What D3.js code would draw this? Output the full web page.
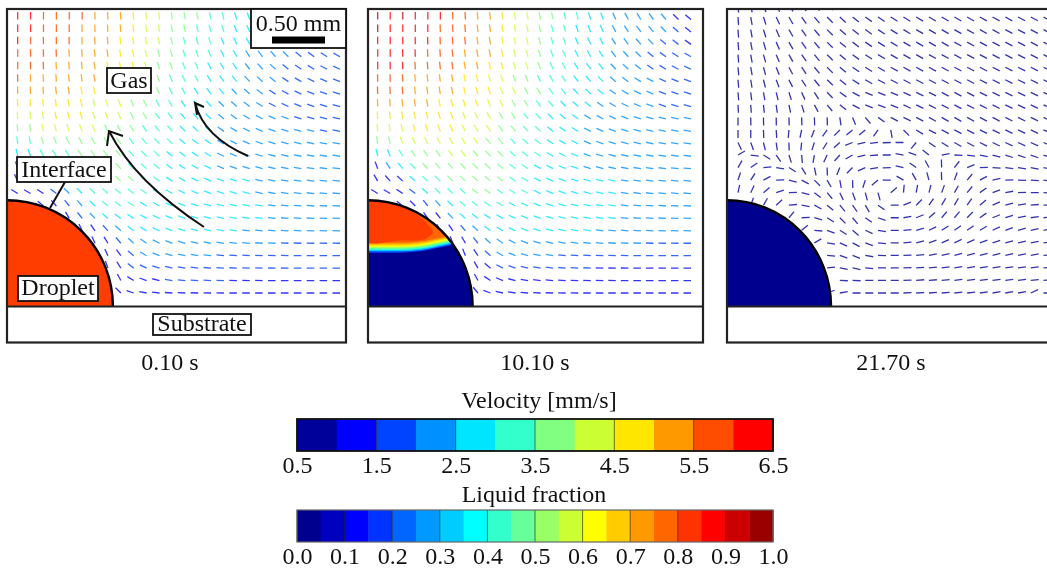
<!DOCTYPE html>
<html>
<head>
<meta charset="utf-8">
<script src="https://cdn.jsdelivr.net/npm/d3@7"></script>
<style>
    html, body { margin: 0; background: #fff; }
    svg { display: block; font-family: 'Liberation Serif', serif; fill: #111; filter: blur(0.35px); }
    .box { fill: #fff; stroke: #111; stroke-width: 1.8; }
    .note { stroke: #111; stroke-width: 2; fill: none; }
</style>
</head>
<body>
<svg id="vizSVG" width="1047" height="573"></svg>
<script>
// Цвета шкал
const velocityColors = ['#00009a', '#0000ff', '#0044ff', '#0090ff', '#00e5ff', '#33ffcc',
    '#80ff80', '#ccff33', '#ffe600', '#ff9900', '#ff4d00', '#ff0000']
const aboveRangeColor = '#b80000'
const fractionColors = ['#00008f', '#0000bf', '#0000ff', '#0033ff', '#0066ff', '#0099ff', '#00ccff',
    '#00ffff', '#33ffcc', '#66ff99', '#99ff66', '#ccff33', '#ffff00', '#ffcc00', '#ff9900',
    '#ff6600', '#ff3300', '#ff0000', '#cc0000', '#990000']
const velocityTicks = [0.5, 1.5, 2.5, 3.5, 4.5, 5.5, 6.5]
const fractionTicks = [0, 0.1, 0.2, 0.3, 0.4, 0.5, 0.6, 0.7, 0.8, 0.9, 1]
const times = ['0.10 s', '10.10 s', '21.70 s']

// Наклон стрелок влево от вертикали, градусы (0.10 s)
const tilt1 = [
    [0, 0, 0, 0, 0, 0, 2, 3, 4, 5, 6, 7, 8, 10, 12, 13, 15, 18, 20, 23, 26, 30, 35, 40, 44, 48],
    [0, 0, 0, 0, 1, 2, 3, 4, 5, 6, 7, 9, 10, 12, 14, 16, 18, 21, 24, 27, 31, 35, 39, 44, 48, 52],
    [0, 0, 1, 1, 2, 3, 4, 5, 7, 8, 9, 11, 13, 15, 17, 19, 22, 25, 28, 32, 36, 40, 44, 49, 53, 56],
    [0, 1, 1, 2, 3, 4, 6, 7, 9, 10, 12, 14, 16, 18, 20, 23, 26, 29, 33, 37, 41, 45, 50, 54, 57, 61],
    [0, 1, 2, 3, 4, 6, 8, 9, 11, 13, 15, 17, 19, 21, 24, 27, 30, 34, 38, 42, 47, 51, 55, 59, 62, 65],
    [1, 2, 3, 4, 6, 8, 10, 12, 14, 16, 18, 20, 23, 25, 28, 31, 35, 39, 43, 48, 52, 56, 60, 63, 66, 69],
    [1, 3, 4, 6, 8, 10, 12, 15, 17, 19, 21, 24, 27, 30, 33, 36, 40, 44, 48, 53, 57, 61, 65, 68, 70, 72],
    [2, 4, 6, 8, 10, 13, 15, 18, 20, 23, 25, 28, 31, 34, 37, 41, 45, 49, 53, 58, 62, 65, 68, 71, 73, 75],
    [3, 5, 8, 11, 13, 16, 19, 21, 24, 27, 30, 33, 36, 39, 42, 46, 50, 54, 58, 62, 66, 69, 72, 74, 76, 77],
    [4, 8, 12, 15, 18, 21, 23, 26, 29, 32, 35, 38, 41, 44, 47, 51, 55, 59, 63, 67, 70, 72, 75, 76, 78, 79],
    [7, 12, 18, 22, 25, 27, 29, 31, 34, 37, 40, 43, 46, 49, 52, 56, 60, 64, 67, 70, 73, 75, 77, 78, 80, 81],
    [12, 20, 28, 32, 33, 34, 35, 37, 39, 42, 45, 47, 50, 53, 57, 60, 64, 67, 70, 73, 75, 77, 79, 80, 81, 82],
    [18, 28, 37, 41, 42, 41, 41, 42, 44, 46, 49, 51, 54, 57, 61, 64, 67, 70, 73, 75, 77, 79, 80, 82, 83, 84],
    [25, 38, 47, 50, 50, 48, 47, 47, 48, 50, 52, 55, 58, 61, 64, 67, 70, 73, 75, 77, 79, 81, 82, 83, 84, 85],
    [58, 60, 58, 52, 45, 45, 46, 48, 50, 52, 55, 58, 60, 63, 66, 69, 72, 74, 76, 78, 80, 81, 83, 84, 85, 86],
    [null, null, 50, 42, 38, 42, 46, 50, 53, 56, 59, 62, 65, 68, 71, 73, 75, 77, 79, 81, 82, 84, 85, 86, 87, 87],
    [null, null, null, null, 30, 38, 44, 49, 53, 57, 61, 65, 68, 71, 73, 76, 78, 80, 81, 83, 84, 85, 86, 87, 88, 88],
    [null, null, null, null, null, 25, 35, 42, 48, 53, 59, 64, 68, 72, 75, 77, 79, 81, 83, 84, 85, 86, 87, 88, 88, 89],
    [null, null, null, null, null, null, 25, 32, 40, 48, 56, 63, 69, 73, 77, 80, 82, 83, 85, 86, 87, 87, 88, 89, 89, 89],
    [null, null, null, null, null, null, null, 25, 36, 50, 60, 68, 73, 77, 80, 83, 84, 85, 86, 87, 88, 88, 89, 89, 90, 90],
    [null, null, null, null, null, null, null, 20, 32, 52, 64, 72, 77, 81, 83, 85, 86, 87, 88, 88, 89, 89, 90, 90, 90, 90],
    [null, null, null, null, null, null, null, null, 28, 58, 70, 76, 81, 84, 86, 87, 88, 88, 89, 89, 90, 90, 90, 90, 90, 90],
    [null, null, null, null, null, null, null, null, 45, 72, 80, 83, 86, 87, 88, 89, 89, 90, 90, 90, 90, 90, 90, 90, 90, 90],
]

// Класс скорости каждой стрелки, шестнадцатеричный индекс (0.10 s)
const speed1 = [
    'bbaaaa99987766655443332222',
    'bbaaa999987766555443333222',
    'baaaa999887765554443332222',
    'aaaa9999887665554433332222',
    'aaa99998887665544433322222',
    'a9999998877655544433322222',
    '99999888776655444333222222',
    '88888877766554443333222222',
    '77788877766554443333332222',
    '66777776665554443333333322',
    '55666666655554443333333333',
    '44555666655544443333333333',
    '23455666655544443333333333',
    '12345566665544444443333333',
    '11123455555444444443333333',
    '11112345554444444444333333',
    '11111234444444444444333333',
    '11111112344444444433333333',
    '11111111233333333333322222',
    '11111111123333332222222222',
    '11111111122222222222222222',
    '11111111111122222111111111',
    '11111111111111111111111111',
]

const tilt2 = [
    [0, 0, 0, 0, 0, 0, 2, 3, 5, 7, 8, 9, 10, 12, 12, 14, 14, 18, 20, 24, 28, 32, 36, 40, 45, 50],
    [0, 0, 0, 0, 1, 2, 3, 5, 6, 8, 9, 10, 11, 13, 14, 16, 18, 22, 24, 28, 32, 36, 40, 44, 48, 52],
    [0, 0, 0, 1, 2, 3, 4, 6, 7, 9, 10, 11, 13, 15, 16, 19, 22, 25, 28, 33, 37, 41, 45, 49, 52, 55],
    [0, 0, 1, 2, 3, 4, 6, 8, 9, 10, 12, 14, 15, 17, 20, 23, 26, 29, 34, 38, 42, 46, 50, 54, 57, 60],
    [0, 1, 2, 3, 4, 6, 8, 10, 11, 13, 15, 17, 19, 21, 24, 27, 31, 35, 39, 43, 47, 51, 55, 59, 62, 65],
    [1, 2, 3, 4, 6, 8, 10, 12, 14, 16, 18, 20, 23, 26, 29, 33, 37, 41, 45, 49, 54, 58, 62, 65, 68, 70],
    [2, 3, 4, 6, 8, 10, 12, 14, 17, 19, 22, 25, 28, 31, 34, 38, 42, 46, 50, 55, 59, 63, 66, 69, 71, 73],
    [2, 4, 6, 8, 10, 13, 15, 18, 21, 23, 26, 29, 32, 35, 39, 43, 47, 51, 55, 60, 64, 67, 70, 72, 74, 76],
    [3, 6, 9, 11, 14, 17, 19, 22, 25, 28, 31, 34, 37, 41, 45, 49, 53, 57, 61, 65, 68, 71, 73, 75, 77, 78],
    [5, 9, 13, 16, 19, 21, 24, 27, 30, 33, 36, 39, 43, 47, 51, 55, 59, 63, 67, 70, 72, 75, 77, 78, 79, 80],
    [8, 14, 20, 24, 26, 28, 30, 32, 35, 38, 41, 44, 48, 52, 56, 60, 64, 67, 70, 73, 75, 77, 78, 80, 81, 82],
    [13, 23, 30, 33, 35, 36, 36, 38, 40, 43, 46, 49, 52, 56, 60, 64, 67, 70, 73, 75, 77, 79, 80, 81, 82, 83],
    [20, 33, 40, 43, 43, 42, 42, 43, 45, 47, 50, 53, 56, 60, 64, 67, 70, 73, 75, 77, 79, 81, 82, 83, 84, 85],
    [30, 42, 48, 50, 50, 48, 47, 47, 48, 50, 53, 56, 60, 63, 66, 69, 72, 75, 77, 79, 81, 82, 83, 84, 85, 85],
    [58, 60, 56, 52, 48, 46, 46, 48, 50, 52, 55, 58, 61, 64, 67, 70, 73, 75, 77, 79, 81, 82, 84, 85, 85, 86],
    [null, null, 52, 45, 38, 42, 46, 50, 53, 56, 59, 62, 65, 68, 71, 73, 75, 77, 79, 81, 82, 84, 85, 86, 87, 87],
    [null, null, null, null, 35, 38, 43, 48, 52, 57, 61, 65, 68, 71, 74, 76, 78, 80, 81, 83, 84, 85, 86, 87, 88, 88],
    [null, null, null, null, null, 28, 34, 40, 47, 53, 59, 64, 68, 72, 75, 77, 79, 81, 83, 84, 85, 86, 87, 88, 88, 89],
    [null, null, null, null, null, null, 22, 30, 38, 47, 56, 63, 69, 73, 77, 80, 82, 84, 85, 86, 87, 88, 88, 89, 89, 90],
    [null, null, null, null, null, null, null, 22, 34, 48, 60, 68, 73, 77, 80, 83, 85, 86, 87, 88, 88, 89, 89, 90, 90, 90],
    [null, null, null, null, null, null, null, 18, 30, 50, 63, 71, 76, 80, 83, 85, 86, 87, 88, 89, 89, 90, 90, 90, 90, 90],
    [null, null, null, null, null, null, null, null, 28, 56, 68, 76, 80, 83, 85, 87, 88, 88, 89, 89, 90, 90, 90, 90, 90, 90],
    [null, null, null, null, null, null, null, null, 40, 70, 78, 82, 85, 87, 88, 89, 89, 90, 90, 90, 90, 90, 90, 90, 90, 90],
]

// 'c' - скорость выше шкалы
const speed2 = [
    'cbcbbbaa998776655443333311',
    'cbbbbaaa998776554443333321',
    'bbbbbaaa998776554443333221',
    'bbbbaaa9998776554443332222',
    'bbbaaaa9988776554443332222',
    'aaa99998877665554443333222',
    'aaa99998887766554443333222',
    '99999888877665544433333222',
    '88888887776655444333333333',
    '77788887776655444333333333',
    '66777777766555444333333333',
    '44566677666555444333333333',
    '13456666666554444333333333',
    '11145566666554444444333333',
    '11124555665554444444333333',
    '11112345555444444444333333',
    '11111134444444444444333333',
    '11111112344444444433333333',
    '11111111233333333333332222',
    '11111111123333322222222222',
    '11111111112222222211111111',
    '11111111111111111111111111',
    '11111111111111111111111111',
]

// Направление стрелок по часовой стрелке от севера, градусы (21.70 s).
// Верхний ряд срезан рамкой.
const heading3 = [
    [176, 170, 162, 155, 150, 145, 140, 135, 132, 128, 125, 124, 122, 122, 121, 120, 120, 120, 120, 119, 119, 119, 118, 118, 118],
    [176, 170, 162, 155, 150, 145, 140, 135, 132, 128, 125, 124, 122, 122, 121, 120, 120, 120, 120, 119, 119, 119, 118, 118, 118],
    [176, 170, 163, 156, 150, 145, 140, 135, 130, 128, 125, 123, 122, 121, 120, 120, 120, 120, 119, 119, 119, 118, 118, 118, 118],
    [175, 170, 163, 156, 150, 145, 140, 135, 130, 127, 124, 122, 121, 120, 120, 120, 120, 119, 119, 118, 118, 118, 118, 118, 117],
    [175, 170, 164, 157, 151, 145, 140, 135, 130, 126, 123, 121, 120, 120, 120, 119, 119, 119, 118, 118, 118, 118, 117, 117, 117],
    [175, 170, 165, 158, 152, 146, 140, 135, 130, 125, 122, 120, 119, 119, 119, 119, 118, 118, 118, 118, 117, 117, 117, 117, 117],
    [175, 171, 166, 159, 153, 147, 141, 134, 128, 123, 120, 118, 118, 118, 118, 118, 118, 118, 118, 117, 117, 117, 117, 117, 116],
    [175, 173, 170, 166, 162, 156, 148, 136, 125, 118, 113, 112, 113, 115, 116, 117, 118, 118, 118, 117, 117, 117, 116, 116, 116],
    [177, 176, 174, 172, 168, 162, 152, 140, 128, 118, 112, 110, 112, 115, 116, 117, 117, 118, 117, 117, 117, 116, 116, 116, 116],
    [180, 179, 179, 179, 178, 178, 178, 178, 172, 158, 140, 125, 118, 116, 118, 119, 120, 120, 119, 118, 118, 117, 117, 116, 116],
    [180, 180, 178, 176, 185, 192, 202, 215, 225, 230, 230, 215, 170, 135, 122, 118, 117, 117, 117, 116, 116, 116, 116, 115, 115],
    [155, 160, 166, 172, 178, 186, 198, 212, 228, 248, 258, 264, 268, 270, 220, 125, 122, 120, 118, 117, 116, 115, 115, 115, 115],
    [60, 98, 122, 145, 162, 175, 190, 205, 222, 240, 256, 266, 270, 280, 290, 308, 80, 92, 98, 102, 106, 108, 110, 110, 110],
    [30, 55, 85, 100, 122, 148, 168, 178, 202, 225, 245, 260, 268, 282, 305, 332, 358, 38, 68, 88, 94, 98, 100, 102, 104],
    [18, 32, 62, 88, 104, 118, 135, 150, 170, 178, 198, 230, 270, 300, 330, 345, 358, 20, 40, 62, 78, 88, 92, 94, 98],
    [12, 25, 50, 72, 88, 105, 128, 140, 155, 160, 165, 165, 50, 5, 10, 15, 20, 30, 40, 55, 70, 80, 88, 90, 95],
    [null, 20, 30, 48, 85, 100, 118, 130, 140, 145, 150, 125, 90, 68, 45, 35, 30, 30, 35, 50, 65, 75, 80, 85, 90],
    [null, null, null, null, 40, 88, 105, 122, 135, 140, 125, 110, 90, 80, 68, 50, 40, 40, 45, 55, 68, 72, 78, 82, 85],
    [null, null, null, null, null, 50, 95, 110, 122, 130, 115, 100, 90, 85, 75, 65, 58, 55, 55, 60, 65, 70, 75, 78, 80],
    [null, null, null, null, null, null, 60, 100, 115, 118, 110, 96, 90, 85, 76, 70, 66, 65, 66, 70, 72, 75, 78, 80, 82],
    [null, null, null, null, null, null, null, 95, 110, 112, 100, 92, 90, 88, 85, 80, 78, 75, 75, 75, 75, 78, 80, 80, 85],
    [null, null, null, null, null, null, null, 85, 100, 102, 95, 90, 90, 88, 86, 85, 82, 80, 80, 80, 80, 82, 82, 82, 85],
    [null, null, null, null, null, null, null, null, 92, 92, 90, 90, 90, 88, 85, 85, 84, 82, 82, 82, 82, 82, 82, 84, 85],
    [null, null, null, null, null, null, null, 70, 80, 90, 90, 90, 90, 88, 88, 86, 86, 84, 84, 82, 80, 80, 80, 65, 90],
]

// Граница таяния в капле на 10.10 s: [x, y] в мм
const meltFront = [[0, 0], [0.3, 0], [0.5, 0.012], [0.7, 0.05], [0.95, 0.1]]
const meltLevels = [0.507, 0.52, 0.532, 0.544, 0.555, 0.565, 0.575, 0.587, 0.6]
const meltColors = ['#0044ff', '#00ccff', '#33ffcc', '#80ff80', '#ccff33', '#ffff00', '#ffcc00', '#ff9900', '#ff6600']
const meltCore = [[-0.05, 0.62], [0.3, 0.62], [0.53, 0.63], [0.6, 0.67], [0.62, 0.705], [0.43, 0.894], [0.24, 0.97], [-0.05, 1.01]]

const panels = [
    { left: 7, right: 346, cols: [17.7, 340], rows: [19.5, 293], len: 7.5, tail: tilt1, turn: -1, speed: speed1, fill: '#ff3d00', titleX: 170 },
    { left: 368, right: 703, cols: [377.7, 691], rows: [19.5, 293], len: 7.5, tail: tilt2, turn: -1, speed: speed2, fill: '#00008f', titleX: 535 },
    { left: 727, right: 1060, cols: [738, 1043.5], rows: [4.5, 293], len: 8, tail: heading3, turn: 1, speed: null, fill: '#00008f', titleX: 891 },
]

const DROPLET_MM = 1
const DOMAIN_MM = [3.2, 2.8]
const TOP = 9, SUBSTRATE = 306.5, BOTTOM = 342.5

const svg = d3.select('#vizSVG')
const defs = svg.append('defs')

function classColor(code) {
    if (code === 'c') return aboveRangeColor
    return velocityColors[parseInt(code, 16)]
}

function drawPanel(panel, i) {
    const x = d3.scaleLinear().domain([0, DOMAIN_MM[0]]).range([panel.left, panel.right])
    const y = d3.scaleLinear().domain([0, DOMAIN_MM[1]]).range([SUBSTRATE, TOP])
    const nCols = panel.tail[0].length
    const col = d3.scaleLinear().domain([0, nCols - 1]).range(panel.cols)
    const row = d3.scaleLinear().domain([0, panel.tail.length - 1]).range(panel.rows)

    const clipId = 'gas' + i
    defs.append('clipPath').attr('id', clipId).append('rect')
        .attr('x', panel.left).attr('y', TOP)
        .attr('width', panel.right - panel.left).attr('height', SUBSTRATE - TOP)

    const g = svg.append('g')
    g.append('rect').attr('x', panel.left).attr('y', TOP)
        .attr('width', panel.right - panel.left).attr('height', BOTTOM - TOP)
        .attr('fill', '#fff')

    // Стрелки скорости: голова почти не видна при таком размере
    const arrows = panel.tail.flatMap((values, r) =>
        values.map((deg, c) => ({ r, c, deg, code: panel.speed ? panel.speed[r][c] : '0' }))
    ).filter(d => d.deg !== null)

    g.append('g').attr('clip-path', `url(#${clipId})`)
        .selectAll('line')
        .data(arrows)
        .enter()
        .append('line')
        .attr('transform', d => `translate(${col(d.c)},${row(d.r)}) rotate(${panel.turn * d.deg})`)
        .attr('y2', -panel.len)
        .attr('stroke', d => classColor(d.code))
        .attr('stroke-width', 1.3)
        .attr('stroke-opacity', 0.8)

    // Капля
    const rx = x(DROPLET_MM) - x(0)
    const ry = y(0) - y(DROPLET_MM)
    const dropletPath = `M${x(0)},${y(0)}V${y(DROPLET_MM)}A${rx},${ry} 0 0 1 ${x(DROPLET_MM)},${y(0)}Z`
    const dropClip = 'drop' + i
    defs.append('clipPath').attr('id', dropClip).append('path').attr('d', dropletPath)

    const drop = g.append('g').attr('clip-path', `url(#${dropClip})`)
    drop.append('path').attr('d', dropletPath).attr('fill', panel.fill)

    if (i === 1) {
        const front = d3.line().x(d => x(d[0])).curve(d3.curveMonotoneX)
        meltLevels.forEach((level, k) => {
            const edge = front.y(d => y(level + d[1]))(meltFront)
            drop.append('path')
                .attr('d', `${edge}V${TOP}H${x(0)}Z`)
                .attr('fill', meltColors[k])
        })
        drop.append('path')
            .attr('d', d3.line().x(d => x(d[0])).y(d => y(d[1])).curve(d3.curveCatmullRomClosed)(meltCore))
            .attr('fill', '#ff3d00')
    }

    g.append('path').attr('d', `M${x(0)},${y(DROPLET_MM)}A${rx},${ry} 0 0 1 ${x(DROPLET_MM)},${y(0)}`)
        .attr('fill', 'none').attr('stroke', '#000').attr('stroke-width', 2.4)

    // Рамка и подложка
    g.append('path')
        .attr('d', `M${panel.left},${SUBSTRATE}H${panel.right}`)
        .attr('stroke', '#222').attr('stroke-width', 2)
    g.append('rect').attr('x', panel.left).attr('y', TOP)
        .attr('width', panel.right - panel.left).attr('height', BOTTOM - TOP)
        .attr('fill', 'none').attr('stroke', '#222').attr('stroke-width', 2.2)

    svg.append('text').attr('x', panel.titleX).attr('y', 370)
        .attr('text-anchor', 'middle').attr('font-size', 24)
        .text(times[i])
}

panels.forEach(drawPanel)

// Подписи на первой панели
function label(text, x0, y0, x1, y1, lift) {
    svg.append('rect').attr('class', 'box').attr('x', x0).attr('y', y0)
        .attr('width', x1 - x0).attr('height', y1 - y0)
    svg.append('text').attr('x', (x0 + x1) / 2).attr('y', y1 - lift)
        .attr('text-anchor', 'middle').attr('font-size', 24)
        .text(text)
}

svg.append('path').attr('class', 'note').attr('d', 'M65,182L50,208')
svg.append('path').attr('class', 'note').attr('d', 'M204,227Q135,182 109,131M107,146L109,131L123,136')
svg.append('path').attr('class', 'note').attr('d', 'M248,156Q204,137 195,103M197,115L195,103L204,107')

label('Gas', 107, 68, 151, 93, 5)
label('Interface', 17, 157, 111, 182, 5)
label('Droplet', 18, 276, 98, 301, 6)
label('Substrate', 153, 314, 251, 335, 4)

// Масштабная линейка
svg.append('rect').attr('class', 'box').attr('x', 251).attr('y', 9).attr('width', 95).attr('height', 39)
    .attr('stroke-width', 2)
svg.append('text').attr('x', 298.5).attr('y', 31).attr('text-anchor', 'middle').attr('font-size', 24).text('0.50 mm')
svg.append('rect').attr('x', 272).attr('y', 36.5).attr('width', 53).attr('height', 7).attr('fill', '#000')

// Цветовые шкалы
function colorbar(title, titleX, titleY, colors, domain, ticks, format, top, frame) {
    const scale = d3.scaleLinear().domain(domain).range([297, 773])
    const step = (domain[1] - domain[0]) / colors.length
    const h = 32
    const bar = svg.append('g')

    svg.append('text').attr('x', titleX).attr('y', titleY)
        .attr('text-anchor', 'middle').attr('font-size', 24).text(title)

    bar.selectAll('rect').data(colors).enter().append('rect')
        .attr('x', (d, i) => scale(domain[0] + i * step))
        .attr('y', top)
        .attr('width', (scale(domain[1]) - scale(domain[0])) / colors.length + 0.4)
        .attr('height', h)
        .attr('fill', d => d)

    const axis = d3.axisBottom(scale).tickValues(ticks).tickFormat(d3.format(format)).tickSize(0).tickPadding(5)
    const axisG = svg.append('g').attr('transform', `translate(0,${top + h})`).call(axis)
    axisG.select('.domain').remove()
    axisG.selectAll('text').attr('font-family', "'Liberation Serif', serif").attr('font-size', 24).attr('fill', '#111')

    // Тонкие линии на подписанных делениях
    bar.selectAll('line').data(ticks).enter().append('line')
        .attr('x1', d => scale(d)).attr('x2', d => scale(d))
        .attr('y1', top).attr('y2', top + h)
        .attr('stroke', '#222').attr('stroke-width', 0.8).attr('stroke-opacity', 0.8)

    bar.append('rect').attr('x', 297).attr('y', top).attr('width', 476).attr('height', h)
        .attr('fill', 'none').attr('stroke', frame[0]).attr('stroke-width', frame[1])
}

colorbar('Velocity [mm/s]', 539, 408, velocityColors, [0.5, 6.5], velocityTicks, '.1f', 419, ['#111', 1.8])
colorbar('Liquid fraction', 534, 502, fractionColors, [0, 1], fractionTicks, '.1f', 510, ['#666', 1.2])
</script>
</body>
</html>
